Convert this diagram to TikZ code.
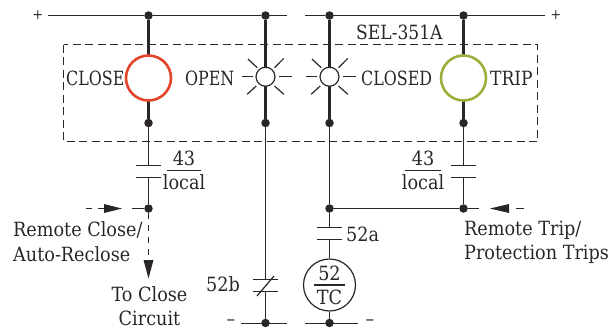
\documentclass[tikz,border=0pt]{standalone}
\usepackage{fontspec}
\setmainfont{DejaVu Serif Condensed}
\newfontfamily\capsf[FakeStretch=0.9]{DejaVu Serif Condensed}
\newfontfamily\capsw[FakeStretch=0.97]{DejaVu Serif Condensed}
\usetikzlibrary{arrows.meta}
\definecolor{ink}{HTML}{2A2627}
\definecolor{closered}{HTML}{E0452A}
\definecolor{tripolive}{HTML}{9DAE3C}
\tikzset{
  wire/.style={draw=ink,line width=1.2pt},
  heavy/.style={draw=ink,line width=2.6pt},
  dot/.style={circle,fill=ink,draw=none,minimum size=8.5pt,inner sep=0pt},
  bigring/.style={circle,draw=#1,line width=2.6pt,fill=white,minimum size=45pt,inner sep=0pt},
  lamp/.style={circle,draw=ink,line width=1.2pt,fill=white,minimum size=19pt,inner sep=0pt},
  coil/.style={circle,draw=ink,line width=1.2pt,fill=white,minimum size=52pt,inner sep=0pt},
  ray/.style={draw=ink,line width=1.2pt},
  box/.style={draw=ink,line width=1.2pt,dash pattern=on 8pt off 4.5pt},
  dashwire/.style={draw=ink,line width=1.2pt,dash pattern=on 6pt off 6pt},
  arrowhead/.style={fill=ink,draw=none},
  lbl/.style={text=ink,font=\fontsize{19.6}{22}\selectfont,inner sep=0pt,anchor=base},
  lblw/.style={lbl,anchor=base west},
  capw/.style={lblw,font=\fontsize{19.6}{22}\capsf},
  capt/.style={lblw,font=\fontsize{19.6}{22}\capsw},
  sign/.style={text=ink,font=\fontsize{14}{16}\selectfont,inner sep=0pt,anchor=base},
  minussign/.style={text=ink,font=\fontsize{19}{20}\selectfont,inner sep=0pt,anchor=base},
}
\begin{document}
\begin{tikzpicture}[x=1pt,y=-1pt]
\useasboundingbox (0,0) rectangle (610,330);
% dashed relay box
\draw[box] (63.5,44.5) rectangle (537.5,141.5);
% junctions
\node[dot] (t1) at (148.5,15.5) {};
\node[dot] (t2) at (265.5,15.5) {};
\node[dot] (t3) at (329.5,15.5) {};
\node[dot] (t4) at (463.5,15.5) {};
\node[dot] (m1) at (148.5,123) {};
\node[dot] (m2) at (265.5,123) {};
\node[dot] (m3) at (329.5,123) {};
\node[dot] (m4) at (463.5,123) {};
\node[dot] (j1) at (148.5,208.5) {};
\node[dot] (j3) at (329.5,208.5) {};
\node[dot] (j4) at (463.5,208.5) {};
\node[dot] (b2) at (265.5,323) {};
\node[dot] (b3) at (329.5,323) {};
% bus ends
\coordinate (busTL) at (48,15.5);
\coordinate (busTM1) at (287,15.5);
\coordinate (busTM2) at (305,15.5);
\coordinate (busTR) at (545,15.5);
\coordinate (busBL) at (241,323.5);
\coordinate (busBM1) at (287,323.5);
\coordinate (busBM2) at (305,323.5);
\coordinate (busBR) at (358,323.5);
\draw[wire] (busTL) -- (t1) -- (t2) -- (busTM1);
\draw[wire] (busTM2) -- (t3) -- (t4) -- (busTR);
\draw[wire] (busBL) -- (busBM1);
\draw[wire] (busBM2) -- (busBR);
% heavy risers
\draw[heavy] (t1) -- (m1);
\draw[heavy] (t2) -- (m2);
\draw[heavy] (t3) -- (m3);
\draw[heavy] (t4) -- (m4);
% lamps
\node[bigring=closered] (close) at (148.5,78) {};
\node[bigring=tripolive] (trip) at (463.5,78) {};
\node[lamp] (open) at (265.5,76.7) {};
\node[lamp] (closed) at (329.5,76.7) {};
\foreach \c in {265.5,329.5}{
  \draw[ray] (\c-24,76.7) -- (\c-12.5,76.7);
  \draw[ray] (\c+13.5,76.7) -- (\c+26,76.7);
  \draw[ray] (\c-17.5,59) -- (\c-8.3,67.7);
  \draw[ray] (\c-18.3,94.3) -- (\c-9.3,86);
  \draw[ray] (\c+9,67.7) -- (\c+18.3,58.3);
  \draw[ray] (\c+9,86) -- (\c+18.3,94.3);
}
% contact 43 left
\coordinate (c1a) at (148.5,165.5);
\coordinate (c1b) at (148.5,177.5);
\draw[wire] (m1) -- (c1a);
\draw[wire] (c1b) -- (j1);
\draw[wire] (136,165.5) -- (161,165.5);
\draw[wire] (136,177.5) -- (161,177.5);
% contact 43 right
\coordinate (c4a) at (463.5,165.5);
\coordinate (c4b) at (463.5,177.5);
\draw[wire] (m4) -- (c4a);
\draw[wire] (c4b) -- (j4);
\draw[wire] (450.5,165.5) -- (476,165.5);
\draw[wire] (450.5,177.5) -- (476,177.5);
% 43/local labels
\draw[wire] (167,170.5) -- (201,170.5);
\draw[wire] (405,170.5) -- (441,170.5);
\node[lbl] (n43l) at (184,165.5) {43};
\node[lbl] (locl) at (184,189) {local};
\node[lbl] (n43r) at (423,165.5) {43};
\node[lbl] (locr) at (423,189) {local};
% column 2: 52b contact
\coordinate (c2a) at (265.5,279.5);
\coordinate (c2b) at (265.5,291.5);
\draw[wire] (m2) -- (c2a);
\draw[wire] (c2b) -- (b2);
\draw[wire] (253,279.5) -- (278,279.5);
\draw[wire] (253,291.5) -- (278,291.5);
\draw[wire] (257,296) -- (274,276);
\node[lbl] (l52b) at (223,291) {52b};
% column 3 and link
\draw[wire] (m3) -- (j3);
\coordinate (linkR) at (479,208.5);
\draw[wire] (j3) -- (j4) -- (linkR);
% 52a contact
\coordinate (c3a) at (329.5,227.5);
\coordinate (c3b) at (329.5,239.5);
\draw[wire] (j3) -- (c3a);
\draw[wire] (317,227.5) -- (342,227.5);
\draw[wire] (317,239.5) -- (342,239.5);
\node[lblw] (l52a) at (346,241.5) {52a};
% coil
\node[coil] (tc) at (329.5,285) {};
\draw[wire] (c3b) -- (tc);
\draw[wire] (tc) -- (b3);
\draw[wire] (314,285) -- (345,285);
\node[lbl] (c52) at (329.5,280) {52};
\node[lbl] (cTC) at (329.5,304) {TC};
% remote close
\coordinate (rcS) at (132,208.5);
\draw[wire] (rcS) -- (j1);
\coordinate (rcA) at (86,208.5);
\coordinate (rcB) at (104,208.5);
\draw[dashwire] (rcA) -- (rcB);
\fill[arrowhead] (104,204) -- (122,208.5) -- (104,213) -- cycle;
\coordinate (dnA) at (148.5,213);
\coordinate (dnB) at (148.5,261);
\draw[dashwire] (dnA) -- (dnB);
\fill[arrowhead] (143.5,260) -- (148.5,278.5) -- (153.5,260) -- cycle;
% remote trip
\coordinate (rtA) at (524,208.5);
\coordinate (rtB) at (516,208.5);
\draw[wire] (rtA) -- (rtB);
\fill[arrowhead] (509,204) -- (490,208.5) -- (509,213) -- cycle;
% texts
\node[sign] (plusL) at (38,19) {+};
\node[sign] (plusR) at (556,19) {+};
\node[minussign] (minusL) at (231,325) {–};
\node[minussign] (minusR) at (370,325) {–};
\node[capw] (tClose) at (66,85) {CLOSE};
\node[capw] (tOpen) at (185,85) {OPEN};
\node[capw] (tClosed) at (361,85) {CLOSED};
\node[capt] (tTrip) at (490,85) {TRIP};
\node[capt] (tSel) at (356,39) {SEL-351A};
\node[lblw] (tRc1) at (13,236.7) {Remote Close/};
\node[lblw] (tRc2) at (13,261) {Auto-Reclose};
\node[lbl] (tTo1) at (149.5,301.7) {To Close};
\node[lbl] (tTo2) at (149.5,325.5) {Circuit};
\node[lblw] (tRt1) at (464,235) {Remote Trip/};
\node[lblw] (tRt2) at (464,259) {Protection Trips};
\end{tikzpicture}
\end{document}
